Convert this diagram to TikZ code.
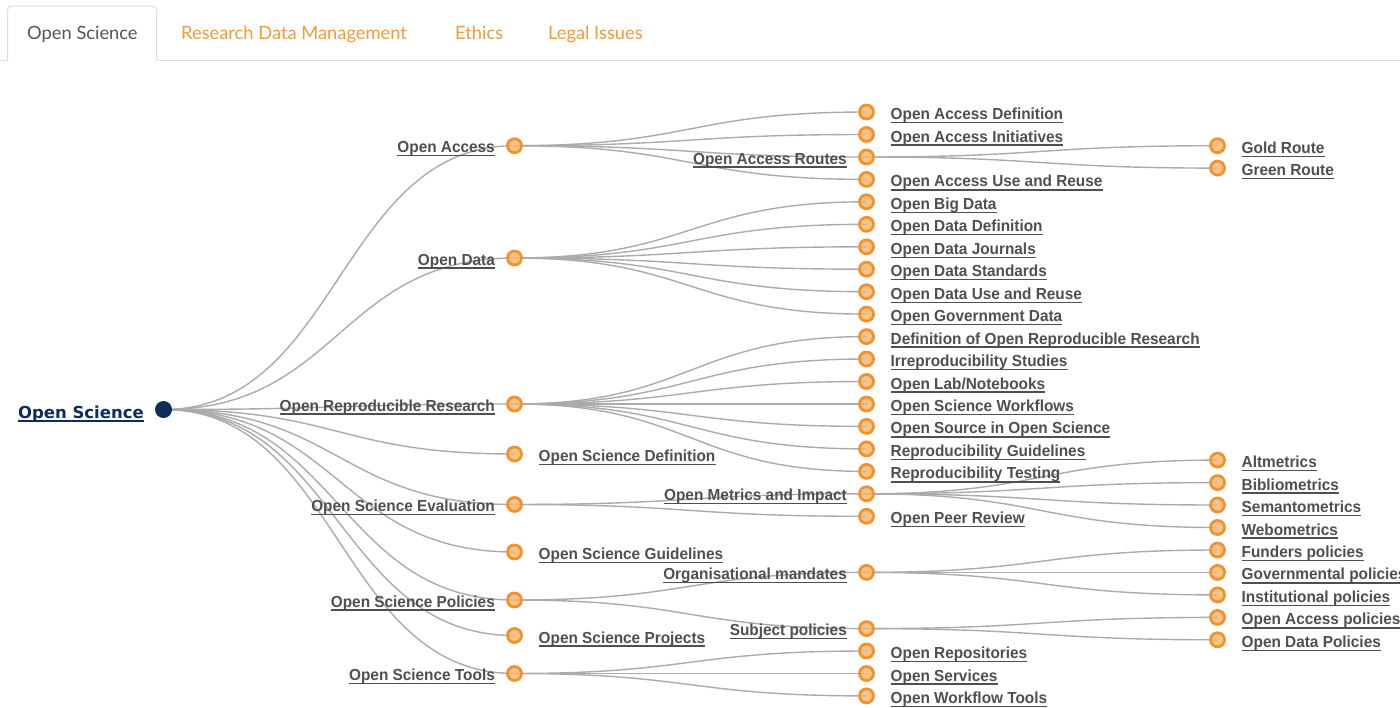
\documentclass[tikz,border=0pt]{standalone}
\usepackage{fontspec}
\usetikzlibrary{backgrounds}
\newfontfamily\labfont{Liberation Sans}[FakeStretch=0.96]
\newfontfamily\rootfont{DejaVu Sans}
\newfontfamily\tabfont{Lato}
\definecolor{labc}{HTML}{4F4F4F}
\definecolor{navy}{HTML}{0C2D5A}
\definecolor{orstroke}{HTML}{F0922E}
\definecolor{orfill}{HTML}{F5B469}
\definecolor{linkc}{HTML}{ABABAB}
\definecolor{tabtext}{HTML}{555555}
\definecolor{taborange}{HTML}{F39A3B}
\definecolor{tabline}{HTML}{DDDDDD}
\tikzset{
  dot/.style={circle, minimum size=14pt, inner sep=0pt, line width=2.8pt, draw=orstroke, fill=orfill, fill opacity=0.8},
  rootdot/.style={circle, minimum size=17pt, inner sep=0pt, fill=navy},
  ul/.style={draw=labc, line width=1.3pt},
  lab/.style={font=\labfont\bfseries\fontsize{16}{18}\selectfont, text=labc, inner sep=0pt,
    append after command={([yshift=-3pt]\tikzlastnode.base west) edge[ul] ([yshift=-3pt]\tikzlastnode.base east)}},
  rlab/.style={lab, anchor=base west, xshift=24pt, yshift=-7.5pt},
  llab/.style={lab, anchor=base east, xshift=-19.5pt, yshift=-7pt},
  rootlab/.style={font=\rootfont\bfseries\fontsize{16.5}{19}\selectfont, text=navy, inner sep=0pt, anchor=base east, xshift=-19.5pt, yshift=-8.5pt,
    append after command={([yshift=-3pt]\tikzlastnode.base west) edge[draw=navy, line width=1.4pt] ([yshift=-3pt]\tikzlastnode.base east)}},
  lnk/.style={draw=linkc, line width=1.4pt},
  tab/.style={font=\tabfont\fontsize{18.3}{21}\selectfont, inner sep=0pt, anchor=base west},
}
\newcommand\lk[3]{\draw[lnk] (#1.center) .. controls (#3,0 |- #1.center) and (#3,0 |- #2.center) .. (#2.center);}
\begin{document}
\begin{tikzpicture}[x=1pt,y=-1pt]
\begin{pgfonlayer}{background}
\fill[white] (0,0) rectangle (1400,707);
\end{pgfonlayer}
\useasboundingbox (0,0) rectangle (1400,707);
% tabs
\draw[draw=tabline, line width=1pt] (0,60) -- (7.5,60);
\draw[draw=tabline, line width=1pt] (156.5,60) -- (1400,60);
\draw[draw=tabline, line width=1pt, rounded corners=4pt] (7.5,60) -- (7.5,6) -- (156.5,6) -- (156.5,60);
\node[tab, text=tabtext] (tab1) at (27,39.5) {Open Science};
\node[tab, text=taborange] (tab2) at (181,39.5) {Research Data Management};
\node[tab, text=taborange] (tab3) at (455,39.5) {Ethics};
\node[tab, text=taborange] (tab4) at (548,39.5) {Legal Issues};
% root
\node[rootdot] (os) at (163.5,409.5) {};
\node[rootlab] (os-t) at (os.center) {Open Science};
% level 1
\node[dot] (oa) at (514.5,145.7) {};
\node[dot] (od) at (514.5,258) {};
\node[dot] (orr) at (514.5,404) {};
\node[dot] (osd) at (514.5,454) {};
\node[dot] (ose) at (514.5,504.5) {};
\node[dot] (osg) at (514.5,552) {};
\node[dot] (osp) at (514.5,600) {};
\node[dot] (ospr) at (514.5,635.5) {};
\node[dot] (ost) at (514.5,673.5) {};
\node[llab] (oa-t) at (oa.center) {Open Access};
\node[llab] (od-t) at (od.center) {Open Data};
\node[llab] (orr-t) at (orr.center) {Open Reproducible Research};
\node[rlab] (osd-t) at (osd.center) {Open Science Definition};
\node[llab] (ose-t) at (ose.center) {Open Science Evaluation};
\node[rlab] (osg-t) at (osg.center) {Open Science Guidelines};
\node[llab] (osp-t) at (osp.center) {Open Science Policies};
\node[rlab] (ospr-t) at (ospr.center) {Open Science Projects};
\node[llab] (ost-t) at (ost.center) {Open Science Tools};
% level 2
\foreach \n/\y in {oad/112, oai/134.5, oar/157, oau/179.4, obd/201.8, odd/224.3, odj/246.8, ods/269.2, odu/291.7, ogd/314.1, dorr/336.6, irr/359, olab/381.5, osw/404, osos/426.4, rg/448.9, rt/471.4, omi/493.8, opr/516.3, om/572.4, sp/628.6, orep/651, oser/673.5, owt/695.9}
  \node[dot] (\n) at (866.5,\y) {};
\node[rlab] (oad-t) at (oad.center) {Open Access Definition};
\node[rlab] (oai-t) at (oai.center) {Open Access Initiatives};
\node[llab] (oar-t) at (oar.center) {Open Access Routes};
\node[rlab] (oau-t) at (oau.center) {Open Access Use and Reuse};
\node[rlab] (obd-t) at (obd.center) {Open Big Data};
\node[rlab] (odd-t) at (odd.center) {Open Data Definition};
\node[rlab] (odj-t) at (odj.center) {Open Data Journals};
\node[rlab] (ods-t) at (ods.center) {Open Data Standards};
\node[rlab] (odu-t) at (odu.center) {Open Data Use and Reuse};
\node[rlab] (ogd-t) at (ogd.center) {Open Government Data};
\node[rlab] (dorr-t) at (dorr.center) {Definition of Open Reproducible Research};
\node[rlab] (irr-t) at (irr.center) {Irreproducibility Studies};
\node[rlab] (olab-t) at (olab.center) {Open Lab/Notebooks};
\node[rlab] (osw-t) at (osw.center) {Open Science Workflows};
\node[rlab] (osos-t) at (osos.center) {Open Source in Open Science};
\node[rlab] (rg-t) at (rg.center) {Reproducibility Guidelines};
\node[rlab] (rt-t) at (rt.center) {Reproducibility Testing};
\node[llab] (omi-t) at (omi.center) {Open Metrics and Impact};
\node[rlab] (opr-t) at (opr.center) {Open Peer Review};
\node[llab] (om-t) at (om.center) {Organisational mandates};
\node[llab] (sp-t) at (sp.center) {Subject policies};
\node[rlab] (orep-t) at (orep.center) {Open Repositories};
\node[rlab] (oser-t) at (oser.center) {Open Services};
\node[rlab] (owt-t) at (owt.center) {Open Workflow Tools};
% level 3
\foreach \n/\y in {gold/145.7, green/168.1, alt/460.1, bib/482.6, sem/505, web/527.5, fund/550, gov/572.4, inst/594.9, oap/617.4, odp/639.8}
  \node[dot] (\n) at (1217.5,\y) {};
\node[rlab] (gold-t) at (gold.center) {Gold Route};
\node[rlab] (green-t) at (green.center) {Green Route};
\node[rlab] (alt-t) at (alt.center) {Altmetrics};
\node[rlab] (bib-t) at (bib.center) {Bibliometrics};
\node[rlab] (sem-t) at (sem.center) {Semantometrics};
\node[rlab] (web-t) at (web.center) {Webometrics};
\node[rlab] (fund-t) at (fund.center) {Funders policies};
\node[rlab] (gov-t) at (gov.center) {Governmental policies};
\node[rlab] (inst-t) at (inst.center) {Institutional policies};
\node[rlab] (oap-t) at (oap.center) {Open Access policies};
\node[rlab] (odp-t) at (odp.center) {Open Data Policies};
% links
\begin{pgfonlayer}{background}
\foreach \c in {oa,od,orr,osd,ose,osg,osp,ospr,ost} {\lk{os}{\c}{339}}
\foreach \c in {oad,oai,oar,oau} {\lk{oa}{\c}{690.5}}
\foreach \c in {obd,odd,odj,ods,odu,ogd} {\lk{od}{\c}{690.5}}
\foreach \c in {dorr,irr,olab,osw,osos,rg,rt} {\lk{orr}{\c}{690.5}}
\foreach \c in {omi,opr} {\lk{ose}{\c}{690.5}}
\foreach \c in {om,sp} {\lk{osp}{\c}{690.5}}
\foreach \c in {orep,oser,owt} {\lk{ost}{\c}{690.5}}
\foreach \c in {gold,green} {\lk{oar}{\c}{1042}}
\foreach \c in {alt,bib,sem,web} {\lk{omi}{\c}{1042}}
\foreach \c in {fund,gov,inst} {\lk{om}{\c}{1042}}
\foreach \c in {oap,odp} {\lk{sp}{\c}{1042}}
\end{pgfonlayer}
\end{tikzpicture}
\end{document}
